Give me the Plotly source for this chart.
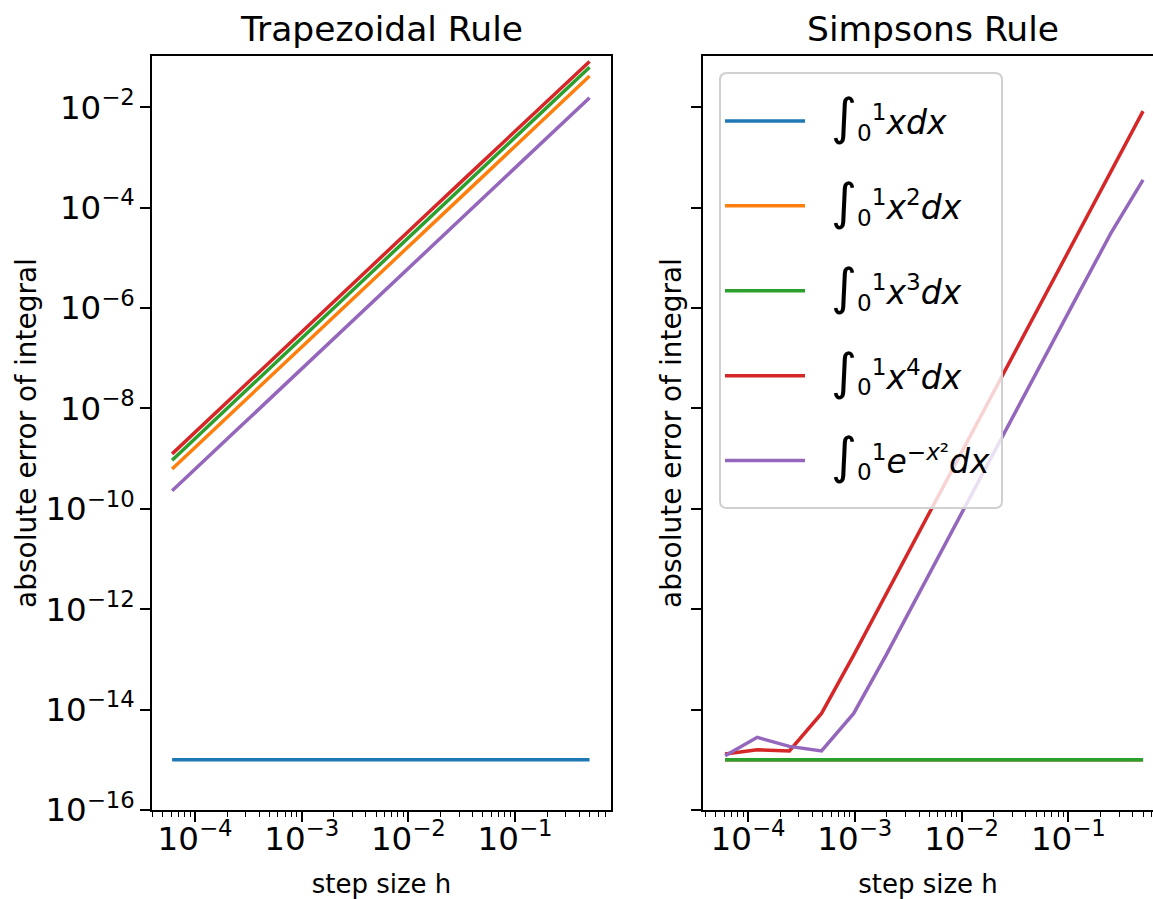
import plotly.graph_objects as go

# step sizes h
h = [0.5, 0.25, 0.125, 0.0625, 0.03125, 0.015625, 0.0078125, 0.00390625,
     0.001953125, 0.0009765625, 0.00048828125, 0.000244140625,
     0.0001220703125, 6.103515625e-05]

INT = "\u00a0\u00a0<span style='font-size:50px'>∫</span><sub>0</sub><sup>1</sup>"
labels = [
    INT + "<i>xdx</i>",
    INT + "<i>x</i><sup>2</sup><i>dx</i>",
    INT + "<i>x</i><sup>3</sup><i>dx</i>",
    INT + "<i>x</i><sup>4</sup><i>dx</i>",
    INT + "<i>e</i><sup>−<i>x</i>²</sup><i>dx</i>",
]
colors = ["#1f77b4", "#ff7f0e", "#2ca02c", "#d62728", "#9467bd"]

# Trapezoidal rule errors
trap_x1 = [1e-15] * 14
trap_x2 = [0.041667, 0.0104167, 0.0026042, 6.5104e-4, 1.6276e-4, 4.069e-5, 1.0173e-5,
           2.5431e-6, 6.3578e-7, 1.5895e-7, 3.9736e-8, 9.934e-9, 2.4835e-9, 6.2088e-10]
trap_x3 = [0.0625, 0.015625, 0.00390625, 9.7656e-4, 2.4414e-4, 6.1035e-5, 1.5259e-5,
           3.8147e-6, 9.5367e-7, 2.3842e-7, 5.9605e-8, 1.4901e-8, 3.7253e-9, 9.3132e-10]
trap_x4 = [0.08125, 0.0207031, 0.0052002, 0.00130157, 3.2549e-4, 8.138e-5, 2.0345e-5,
           5.0863e-6, 1.2716e-6, 3.1789e-7, 7.9473e-8, 1.9868e-8, 4.9671e-9, 1.2418e-9]
trap_exp = [0.015456, 0.0038401, 9.5852e-4, 2.3951e-4, 5.9876e-5, 1.4969e-5, 3.7422e-6,
            9.3556e-7, 2.3389e-7, 5.8472e-8, 1.4618e-8, 3.6545e-9, 9.136e-10, 2.284e-10]

# Simpson's rule errors
simp_x1 = [1e-15] * 14
simp_x2 = [1e-15] * 14
simp_x3 = [1e-15] * 14
simp_x4 = [0.0083333, 5.2083e-4, 3.2552e-5, 2.0345e-6, 1.2716e-7, 7.9473e-9, 4.9671e-10,
           3.1044e-11, 1.9403e-12, 1.22e-13, 8.4e-15, 1.5e-15, 1.58e-15, 1.3e-15]
simp_exp = [3.56e-4, 3.1e-5, 1.98e-6, 1.2474e-7, 7.7963e-9, 4.8727e-10, 3.0454e-11,
            1.9034e-12, 1.19e-13, 8.4e-15, 1.5e-15, 1.85e-15, 2.8e-15, 1.2e-15]

trap = [trap_x1, trap_x2, trap_x3, trap_x4, trap_exp]
simp = [simp_x1, simp_x2, simp_x3, simp_x4, simp_exp]

W, H = 1153, 899
FONT = "DejaVu Sans"

fig = go.Figure()
for i in range(5):
    fig.add_trace(go.Scatter(x=h, y=trap[i], mode="lines", line=dict(color=colors[i], width=3.5),
                             showlegend=False, xaxis="x", yaxis="y"))
for i in range(5):
    fig.add_trace(go.Scatter(x=h, y=simp[i], mode="lines", line=dict(color=colors[i], width=3.5),
                             name=labels[i], legendgroup="g%d" % i, showlegend=True,
                             xaxis="x2", yaxis="y2"))

tickfont = dict(family=FONT, size=26, color="black")
common_x = dict(type="log", showline=True, linecolor="black", linewidth=2, ticks="outside",
                ticklen=10, tickwidth=1.6, tickcolor="black", dtick=1, exponentformat="power",
                showgrid=False, zeroline=False, tickfont=tickfont, automargin=False,
                ticklabelstandoff=-10,
                minor=dict(ticks="outside", ticklen=5, tickwidth=1.2, tickcolor="black", showgrid=False),
                title=dict(text="step size h", font=dict(family=FONT, size=26, color="black"), standoff=20))
common_y = dict(type="log", showline=True, linecolor="black", linewidth=2, ticks="outside",
                ticklen=10, tickwidth=1.6, tickcolor="black", tick0=0, dtick=2, exponentformat="power",
                showgrid=False, zeroline=False, tickfont=tickfont, automargin=False,
                range=[-16, -0.98], domain=[(H - 810) / H, (H - 56) / H],
                title=dict(text="absolute error of integral", font=dict(family=FONT, size=28, color="black"),
                           standoff=1))

# legend frame (rounded, semi-transparent like the reference)
x0, x1 = 720 / W, 1002 / W
y0, y1 = (H - 508) / H, (H - 73) / H
rx, ry = 7 / W, 7 / H
frame = (f"M {x0+rx},{y1} L {x1-rx},{y1} Q {x1},{y1} {x1},{y1-ry} L {x1},{y0+ry} "
         f"Q {x1},{y0} {x1-rx},{y0} L {x0+rx},{y0} Q {x0},{y0} {x0},{y0+ry} "
         f"L {x0},{y1-ry} Q {x0},{y1} {x0+rx},{y1} Z")

fig.update_layout(
    width=W, height=H, margin=dict(l=0, r=0, t=0, b=0),
    paper_bgcolor="white", plot_bgcolor="white",
    font=dict(family=FONT, color="black"),
    xaxis=dict(common_x, domain=[152 / W, 611 / W], range=[-4.403, -0.100], anchor="y", mirror=True),
    yaxis=dict(common_y, anchor="x", mirror=True),
    xaxis2=dict(common_x, domain=[703 / W, 1.0], range=[-4.421, -0.208], anchor="y2", mirror=True),
    yaxis2=dict(common_y, anchor="x2", showticklabels=False, mirror=False),
    legend=dict(x=720 / W, y=(H - 93) / H, xanchor="left", yanchor="top",
                bgcolor="rgba(0,0,0,0)", borderwidth=0,
                font=dict(family=FONT, size=33, color="black"), tracegroupgap=39,
                itemwidth=80),
    shapes=[dict(type="path", path=frame, xref="paper", yref="paper", layer="above",
                 fillcolor="rgba(255,255,255,0.8)", line=dict(color="#d0d0d0", width=2))],
    annotations=[
        dict(text="Trapezoidal Rule", x=(152 + 611) / 2 / W, y=(H - 29) / H, xref="paper", yref="paper",
             showarrow=False, xanchor="center", yanchor="middle", font=dict(family=FONT, size=34.5, color="black")),
        dict(text="Simpsons Rule", x=(703 + 1162) / 2 / W, y=(H - 29) / H, xref="paper", yref="paper",
             showarrow=False, xanchor="center", yanchor="middle", font=dict(family=FONT, size=34.5, color="black")),
    ],
)

fig.write_html("out.html")
